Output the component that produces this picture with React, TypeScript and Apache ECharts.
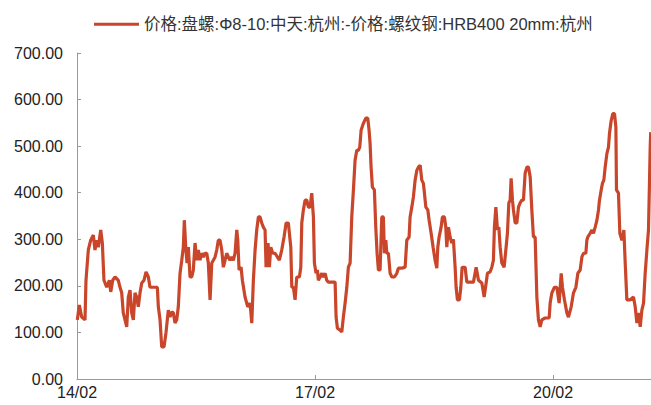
import React, { useEffect, useRef } from "react";
import * as echarts from "echarts";

const seriesName = "价格:盘螺:Φ8-10:中天:杭州:-价格:螺纹钢:HRB400 20mm:杭州";

// months since 2014-02
const months: number[] = [
  0.05, 0.35, 0.71, 1.21, 1.36, 1.71, 2.07, 2.47, 2.72, 2.98, 3.22, 3.59, 3.83, 4.08, 4.49, 4.89, 5.1, 5.4, 5.75, 6.25,
  6.5, 6.76, 7.0, 7.26, 7.52, 7.76, 8.02, 8.27, 8.52, 8.77, 9.03, 9.27, 9.53, 9.79, 10.13, 10.44, 10.79, 11.04, 11.54, 12.15,
  12.3, 12.56, 12.81, 13.16, 13.46, 13.81, 14.07, 14.33, 14.57, 14.82, 15.08, 15.32, 15.58, 15.84, 16.08, 16.23, 16.44, 16.64, 16.84, 17.09,
  17.35, 17.59, 17.85, 18.11, 18.35, 18.61, 18.86, 19.11, 19.36, 19.62, 19.86, 20.12, 20.38, 20.62, 20.88, 21.13, 21.37, 21.63, 21.89, 22.13,
  22.39, 22.64, 22.89, 23.14, 23.4, 23.64, 23.9, 24.16, 24.31, 24.51, 24.81, 25.01, 25.41, 25.82, 26.17, 26.43, 26.67, 26.93, 27.18, 27.43,
  27.68, 27.94, 28.18, 28.44, 28.59, 28.89, 29.09, 29.3, 29.6, 29.95, 30.3, 30.6, 30.96, 31.31, 31.62, 31.96, 32.33, 32.48, 32.72, 32.98,
  33.23, 33.63, 33.84, 33.99, 34.23, 34.49, 34.75, 34.99, 35.25, 35.5, 35.75, 35.9, 36.15, 36.35, 36.5, 36.76, 37.02, 37.26, 37.52, 37.77,
  38.01, 38.53, 39.03, 39.18, 39.38, 39.78, 40.04, 40.28, 40.54, 40.8, 41.04, 41.3, 41.55, 41.8, 42.05, 42.31, 42.55, 42.76, 42.96, 43.31,
  43.67, 43.97, 44.17, 44.32, 44.47, 44.67, 44.97, 45.18, 45.38, 45.58, 45.83, 46.09, 46.33, 46.49, 46.7, 46.85, 47.09, 47.35, 47.61, 48.0,
  48.36, 48.6, 49.12, 49.62, 49.87, 50.22, 50.37, 50.63, 50.87, 51.13, 51.39, 51.63, 51.89, 52.14, 52.38, 52.54, 52.75, 53.05, 53.25, 53.55,
  53.85, 54.15, 54.41, 54.56, 54.76, 55.06, 55.26, 55.56, 55.77, 55.92, 56.17, 56.42, 56.68, 56.92, 57.18, 57.33, 57.53, 57.83, 58.04, 58.24,
  58.69, 58.95, 59.45, 59.95, 60.36, 60.71, 61.22, 61.57, 61.87, 62.07, 62.47, 62.73, 62.97, 63.12, 63.34, 63.58, 63.79, 63.99, 64.24, 64.59,
  64.89, 65.09, 65.3, 65.5, 65.65, 65.85, 66.0, 66.26, 66.51, 66.76, 67.01, 67.27, 67.51, 67.77, 68.03, 68.27, 68.53, 68.78, 69.02, 69.28,
  69.54, 69.78, 70.04, 70.29, 70.79, 71.4, 71.55, 71.81, 72.2, 72.56, 72.91, 73.22, 73.41, 73.71, 74.08, 74.32, 74.73, 75.08, 75.44, 75.74,
  76.09, 76.35, 76.59, 76.95, 77.1, 77.25, 77.6, 77.86, 78.1, 78.36, 78.62, 78.86, 79.01, 79.27, 79.46, 79.67, 79.87, 80.13, 80.37, 80.52,
  80.78, 81.03, 81.28, 81.49, 81.58, 81.88, 82.09, 82.4, 82.7, 82.9, 83.15, 83.65, 84.15, 84.41, 84.67, 84.91, 85.17, 85.42, 85.67, 85.92,
  86.18, 86.42, 86.68, 86.76,
];

const prices: number[] = [
  127, 159, 133, 127, 212, 277, 298, 309, 277, 298, 283, 320, 292, 212, 197, 212, 187, 212, 219, 212,
  197, 185, 142, 127, 112, 176, 191, 142, 127, 185, 176, 155, 185, 206, 212, 230, 219, 197, 197, 197,
  155, 127, 69, 69, 100, 148, 133, 144, 142, 120, 127, 155, 227, 255, 283, 341, 283, 249, 283, 219,
  219, 234, 292, 255, 277, 255, 270, 262, 270, 270, 249, 170, 249, 255, 262, 277, 298, 298, 277, 240,
  255, 270, 262, 255, 262, 255, 270, 320, 298, 234, 240, 212, 176, 155, 163, 120, 212, 277, 320, 348,
  348, 335, 326, 320, 240, 292, 240, 283, 270, 270, 262, 255, 277, 305, 335, 335, 283, 197, 197, 170,
  219, 219, 240, 335, 363, 384, 384, 369, 369, 399, 348, 249, 227, 234, 212, 219, 227, 219, 227, 212,
  208, 208, 208, 133, 109, 105, 101, 133, 163, 197, 240, 249, 348, 406, 470, 491, 491, 498, 534, 549,
  560, 560, 534, 506, 455, 412, 406, 326, 270, 234, 234, 348, 348, 270, 298, 270, 270, 227, 219, 219,
  227, 238, 238, 240, 298, 305, 348, 369, 391, 427, 448, 455, 459, 427, 420, 399, 369, 363, 341, 313,
  283, 255, 238, 283, 305, 326, 348, 348, 326, 283, 326, 305, 292, 300, 240, 197, 170, 170, 197, 240,
  240, 208, 208, 208, 240, 212, 206, 176, 206, 227, 230, 240, 255, 326, 369, 320, 326, 283, 249, 240,
  283, 313, 378, 384, 431, 384, 363, 335, 335, 369, 378, 384, 384, 442, 455, 455, 434, 363, 305, 305,
  176, 127, 112, 127, 131, 131, 163, 185, 197, 197, 163, 227, 197, 170, 142, 133, 155, 185, 197, 227,
  234, 262, 270, 270, 298, 305, 313, 320, 313, 326, 341, 363, 384, 406, 420, 427, 455, 484, 498, 527,
  555, 570, 570, 541, 406, 399, 313, 298, 320, 249, 170, 170, 176, 155, 120, 142, 112, 148, 163, 227,
  277, 320, 498, 530,
];

const xTickValues: number[] = [0, 36, 72];
const xTickLabels: string[] = ["14/02", "17/02", "20/02"];

export default function App() {
  const ref = useRef<HTMLDivElement>(null);
  useEffect(() => {
    if (!ref.current) return;
    const chart = echarts.init(ref.current, null, { renderer: "svg" });
    const data = months.map((m, i) => [m, prices[i]]);
    chart.setOption({
      animation: false,
      legend: {
        data: [seriesName],
        left: 89,
        top: 11,
        icon: "rect",
        itemWidth: 45,
        itemHeight: 3,
        itemGap: 4,
        textStyle: { fontSize: 16.5, color: "#333", fontFamily: "Liberation Sans, Noto Sans CJK SC, sans-serif" },
      },
      grid: { left: 77, right: 0, top: 53, bottom: 26 },
      xAxis: {
        type: "value",
        min: 0,
        max: 86.8,
        splitLine: { show: false },
        axisLine: { lineStyle: { color: "#999", width: 1 } },
        axisTick: { inside: true, length: 4, customValues: xTickValues, lineStyle: { color: "#999" } },
        axisLabel: {
          customValues: xTickValues,
          formatter: (v: number) => {
            const i = xTickValues.indexOf(Math.round(v));
            return i >= 0 ? xTickLabels[i] : "";
          },
          fontSize: 16,
          color: "#222",
          margin: 5,
          fontFamily: "Liberation Sans, sans-serif",
        },
      },
      yAxis: {
        type: "value",
        min: 0,
        max: 700,
        interval: 100,
        splitLine: { show: false },
        axisLine: { show: true, lineStyle: { color: "#999", width: 1 } },
        axisTick: { show: true, inside: true, length: 4, lineStyle: { color: "#999" } },
        axisLabel: {
          formatter: (v: number) => v.toFixed(2),
          fontSize: 16,
          color: "#222",
          margin: 14,
          fontFamily: "Liberation Sans, sans-serif",
        },
      },
      series: [
        {
          name: seriesName,
          type: "line",
          data,
          showSymbol: false,
          symbol: "none",
          lineStyle: { color: "#C9462A", width: 3.2 },
          itemStyle: { color: "#C9462A" },
        },
      ],
    });
    return () => chart.dispose();
  }, []);
  return <div ref={ref} style={{ width: 651, height: 405, position: "absolute", left: 0, top: 0 }} />;
}
